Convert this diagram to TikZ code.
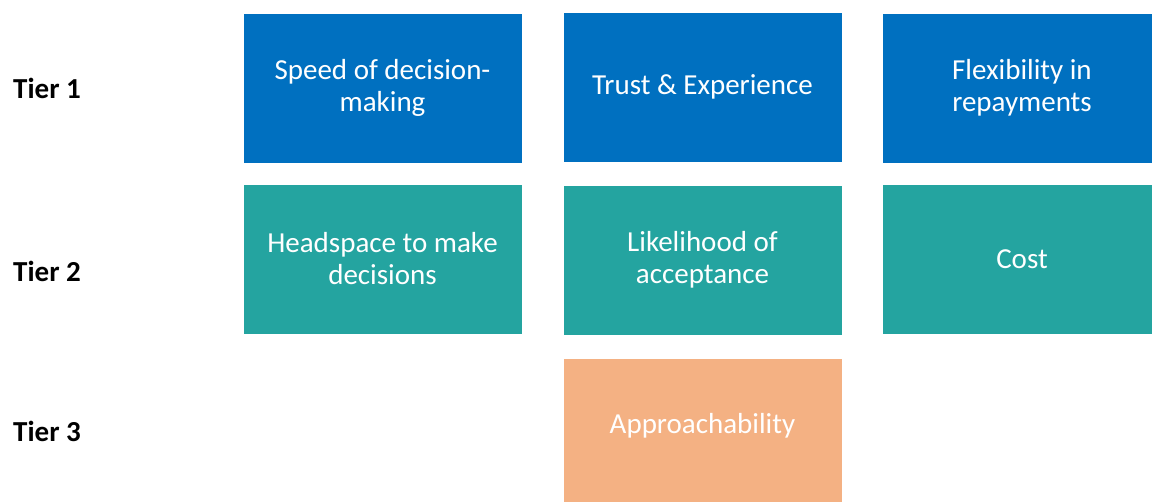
\documentclass[tikz,border=0pt]{standalone}
\usepackage{fontspec}
\setmainfont{Carlito}
\usepackage{xcolor}
\usepackage{tikz}
\usetikzlibrary{positioning}

\definecolor{tierblue}{HTML}{0070C0}
\definecolor{tierteal}{HTML}{24A4A0}
\definecolor{tierorange}{HTML}{F4B183}

\tikzset{
    factor/.style={minimum width=279, minimum height=150, inner sep=0pt, draw=white, line width=0.6pt,
        text=white, align=center, font=\fontsize{29}{32}\selectfont},
    tierlabel/.style={anchor=west, inner sep=0pt, font=\fontsize{29}{32}\selectfont\bfseries}
}

\begin{document}
\begin{tikzpicture}[x=1pt, y=-1pt]
    \useasboundingbox (0,0) rectangle (1152,502);
    % tier 1
    \node[factor, fill=tierblue] (speed) at (382.5,88) {Speed of decision-\\making};
    \node[factor, fill=tierblue] (trust) at (702.5,87) {Trust \& Experience};
    \node[factor, fill=tierblue] (flex) at (1022,88) {Flexibility in\\repayments};
    % tier 2
    \node[factor, fill=tierteal] (head) at (382.5,259) {Headspace to make\\decisions};
    \node[factor, fill=tierteal] (likely) at (702.5,260) {Likelihood of\\acceptance};
    \node[factor, fill=tierteal] (cost) at (1022,259) {Cost};
    % tier 3
    \node[factor, fill=tierorange, text depth=20] (approach) at (702.5,433) {Approachability};
    \foreach \n/\y in {1/88,2/271,3/431} {
        \node[tierlabel] (tier\n) at (13,\y) {Tier \n};
    }
\end{tikzpicture}
\end{document}
